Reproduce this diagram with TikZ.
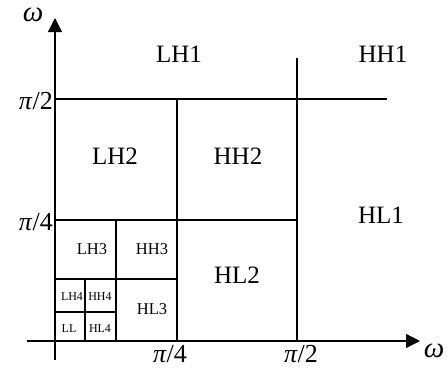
\documentclass[tikz,border=0pt]{standalone}
\usepackage{fontspec}
\setmainfont{Liberation Serif}
\usetikzlibrary{arrows.meta}
\begin{document}
\begin{tikzpicture}[x=1pt,y=-1pt,
  gridline/.style={line width=1.3pt},
  axisline/.style={line width=1.3pt,-{Triangle[length=14pt,width=14pt]}},
  biglab/.style={font=\fontsize{25}{25}\selectfont,inner sep=0pt},
  midlab/.style={font=\fontsize{16.5}{16.5}\selectfont,inner sep=0pt},
  smalllab/.style={font=\fontsize{12}{12}\selectfont,inner sep=0pt},
  ticklab/.style={font=\fontsize{26}{26}\selectfont,inner sep=0pt},
  omegalab/.style={font=\fontsize{29}{29}\selectfont\itshape,inner sep=0pt}]
\useasboundingbox (0,0) rectangle (448,368);
% coordinates
\coordinate (ybot) at (55,360);
\coordinate (ytop) at (55,18);
\coordinate (xleft) at (27,341);
\coordinate (xright) at (420,341);
% axes
\draw[axisline] (ybot) -- (ytop);
\draw[axisline] (xleft) -- (xright);
% grid
\draw[gridline] (55,99) -- (387,99);
\draw[gridline] (297,58) -- (297,341);
\draw[gridline] (177,99) -- (177,341);
\draw[gridline] (55,220) -- (297,220);
\draw[gridline] (116,220) -- (116,341);
\draw[gridline] (55,279) -- (177,279);
\draw[gridline] (85,279) -- (85,341);
\draw[gridline] (55,312) -- (116,312);
% axis labels
\node[omegalab] (wy) at (33,15) {ω};
\node[omegalab] (wx) at (434,351) {ω};
\node[ticklab,anchor=east] (py2) at (53,101) {\textit{π}/2};
\node[ticklab,anchor=east] (py4) at (53,222) {\textit{π}/4};
\node[ticklab] (px4) at (170,354) {\textit{π}/4};
\node[ticklab] (px2) at (301,354) {\textit{π}/2};
% band labels
\node[biglab] (lh1) at (179,54) {LH1};
\node[biglab] (hh1) at (383,54) {HH1};
\node[biglab] (lh2) at (115,156) {LH2};
\node[biglab] (hh2) at (238,156) {HH2};
\node[biglab] (hl1) at (381,215) {HL1};
\node[biglab] (hl2) at (237,275) {HL2};
\node[midlab] (lh3) at (92,249) {LH3};
\node[midlab] (hh3) at (152,249) {HH3};
\node[midlab] (hl3) at (152,309) {HL3};
\node[smalllab] (lh4) at (72,297) {LH4};
\node[smalllab] (hh4) at (100,297) {HH4};
\node[smalllab] (ll) at (69,329) {LL};
\node[smalllab] (hl4) at (100,329) {HL4};
\end{tikzpicture}
\end{document}
